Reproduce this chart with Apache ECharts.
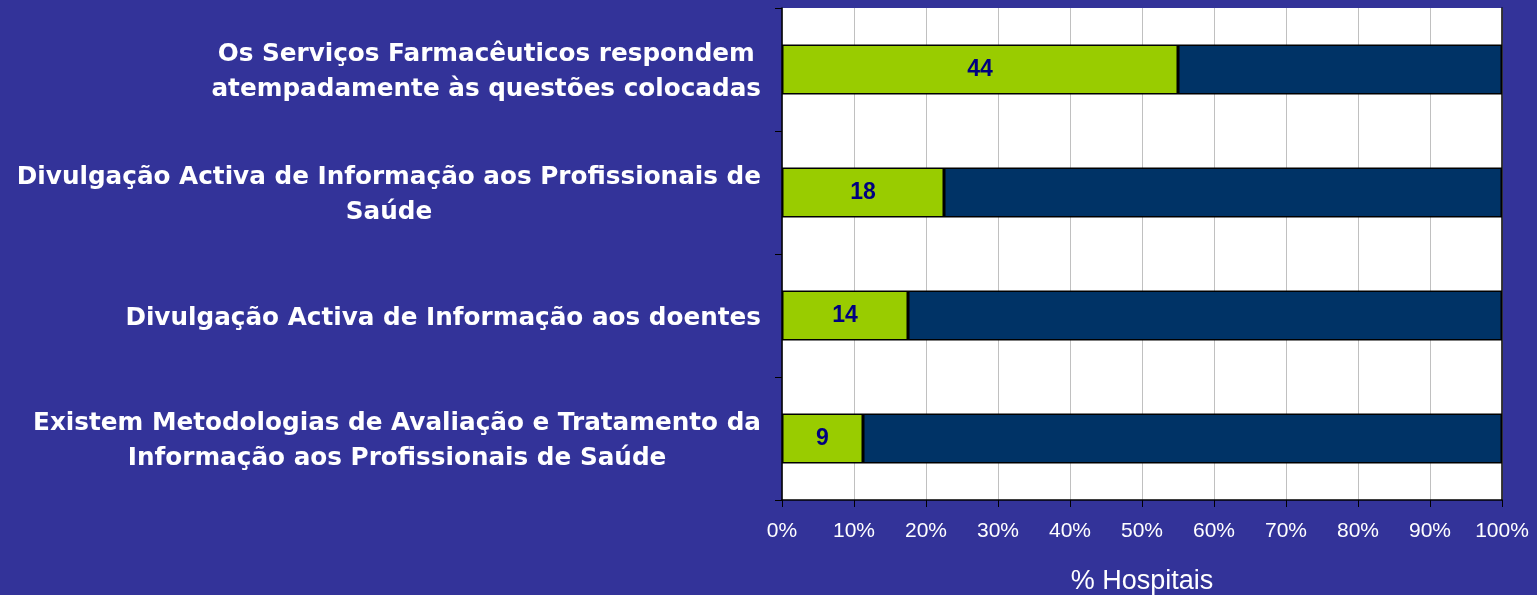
<!DOCTYPE html>
<html>
<head>
<meta charset="utf-8">
<script src="https://cdn.jsdelivr.net/npm/echarts@6/dist/echarts.min.js"></script>
<style>
  html, body { margin: 0; padding: 0; background: #333399; }
  #chart { width: 1537px; height: 595px; }
</style>
</head>
<body>
<div id="chart"></div>
<script>
  // categories, top to bottom
  const categories = [
    'Os Serviços Farmacêuticos respondem\natempadamente às questões colocadas',
    'Divulgação Activa de Informação aos Profissionais de\nSaúde',
    'Divulgação Activa de Informação aos doentes',
    'Existem Metodologias de Avaliação e Tratamento da\nInformação aos Profissionais de Saúde'
  ]
  // number of hospitals (label on green bar)
  const counts = [44, 18, 14, 9]
  // % of hospitals: yes / remainder
  const yesPct = [55, 22.5, 17.5, 11.25]
  const noPct = [45, 77.5, 82.5, 88.75]

  const chart = echarts.init(document.getElementById('chart'))

  chart.setOption({
    backgroundColor: '#333399',
    animation: false,
    grid: {
      left: 782, right: 35, top: 8, bottom: 95,
      outerBoundsMode: 'none',
      show: true, backgroundColor: '#ffffff', borderWidth: 0
    },
    xAxis: {
      type: 'value',
      min: 0,
      max: 100,
      interval: 10,
      name: '% Hospitais',
      nameLocation: 'middle',
      nameGap: 68,
      nameTextStyle: { color: '#ffffff', fontSize: 27, fontFamily: 'Arial' },
      axisLine: { show: true, lineStyle: { color: '#000000', width: 1.5 } },
      axisTick: { show: true, length: 7, lineStyle: { color: '#000000' } },
      axisLabel: { color: '#ffffff', fontSize: 21, fontFamily: 'Arial', margin: 21, formatter: '{value}%' },
      splitLine: { show: true, lineStyle: { color: '#c0c0c0', width: 1 } }
    },
    yAxis: [
      {
        type: 'category',
        inverse: true,
        data: categories,
        axisLine: { show: true, lineStyle: { color: '#000000', width: 1.5 } },
        axisTick: { show: true, length: 7, lineStyle: { color: '#000000' } },
        axisLabel: {
          color: '#ffffff',
          margin: 21,
          align: 'right',
          padding: [6, 0, 0, 0],
          formatter: v => v.split('\n').map(l => '{c|' + l + '}').join('\n'),
          rich: {
            c: { align: 'center', color: '#ffffff', fontSize: 24.7, fontWeight: 'bold', fontFamily: 'DejaVu Sans', lineHeight: 35 }
          }
        }
      },
      {
        type: 'category',
        inverse: true,
        position: 'right',
        data: categories,
        axisLine: { show: true, lineStyle: { color: '#000000', width: 1.5 } },
        axisTick: { show: false },
        axisLabel: { show: false }
      }
    ],
    series: [
      {
        type: 'bar',
        stack: 'total',
        data: yesPct,
        barWidth: 50,
        itemStyle: { color: '#99cc00', borderColor: '#000000', borderWidth: 1.5 },
        label: {
          show: true,
          position: 'inside',
          formatter: p => counts[p.dataIndex],
          color: '#000080',
          fontSize: 23,
          fontWeight: 'bold',
          fontFamily: 'Arial'
        }
      },
      {
        type: 'bar',
        stack: 'total',
        data: noPct,
        barWidth: 50,
        itemStyle: { color: '#003366', borderColor: '#000000', borderWidth: 1.5 }
      }
    ]
  })
</script>
</body>
</html>
